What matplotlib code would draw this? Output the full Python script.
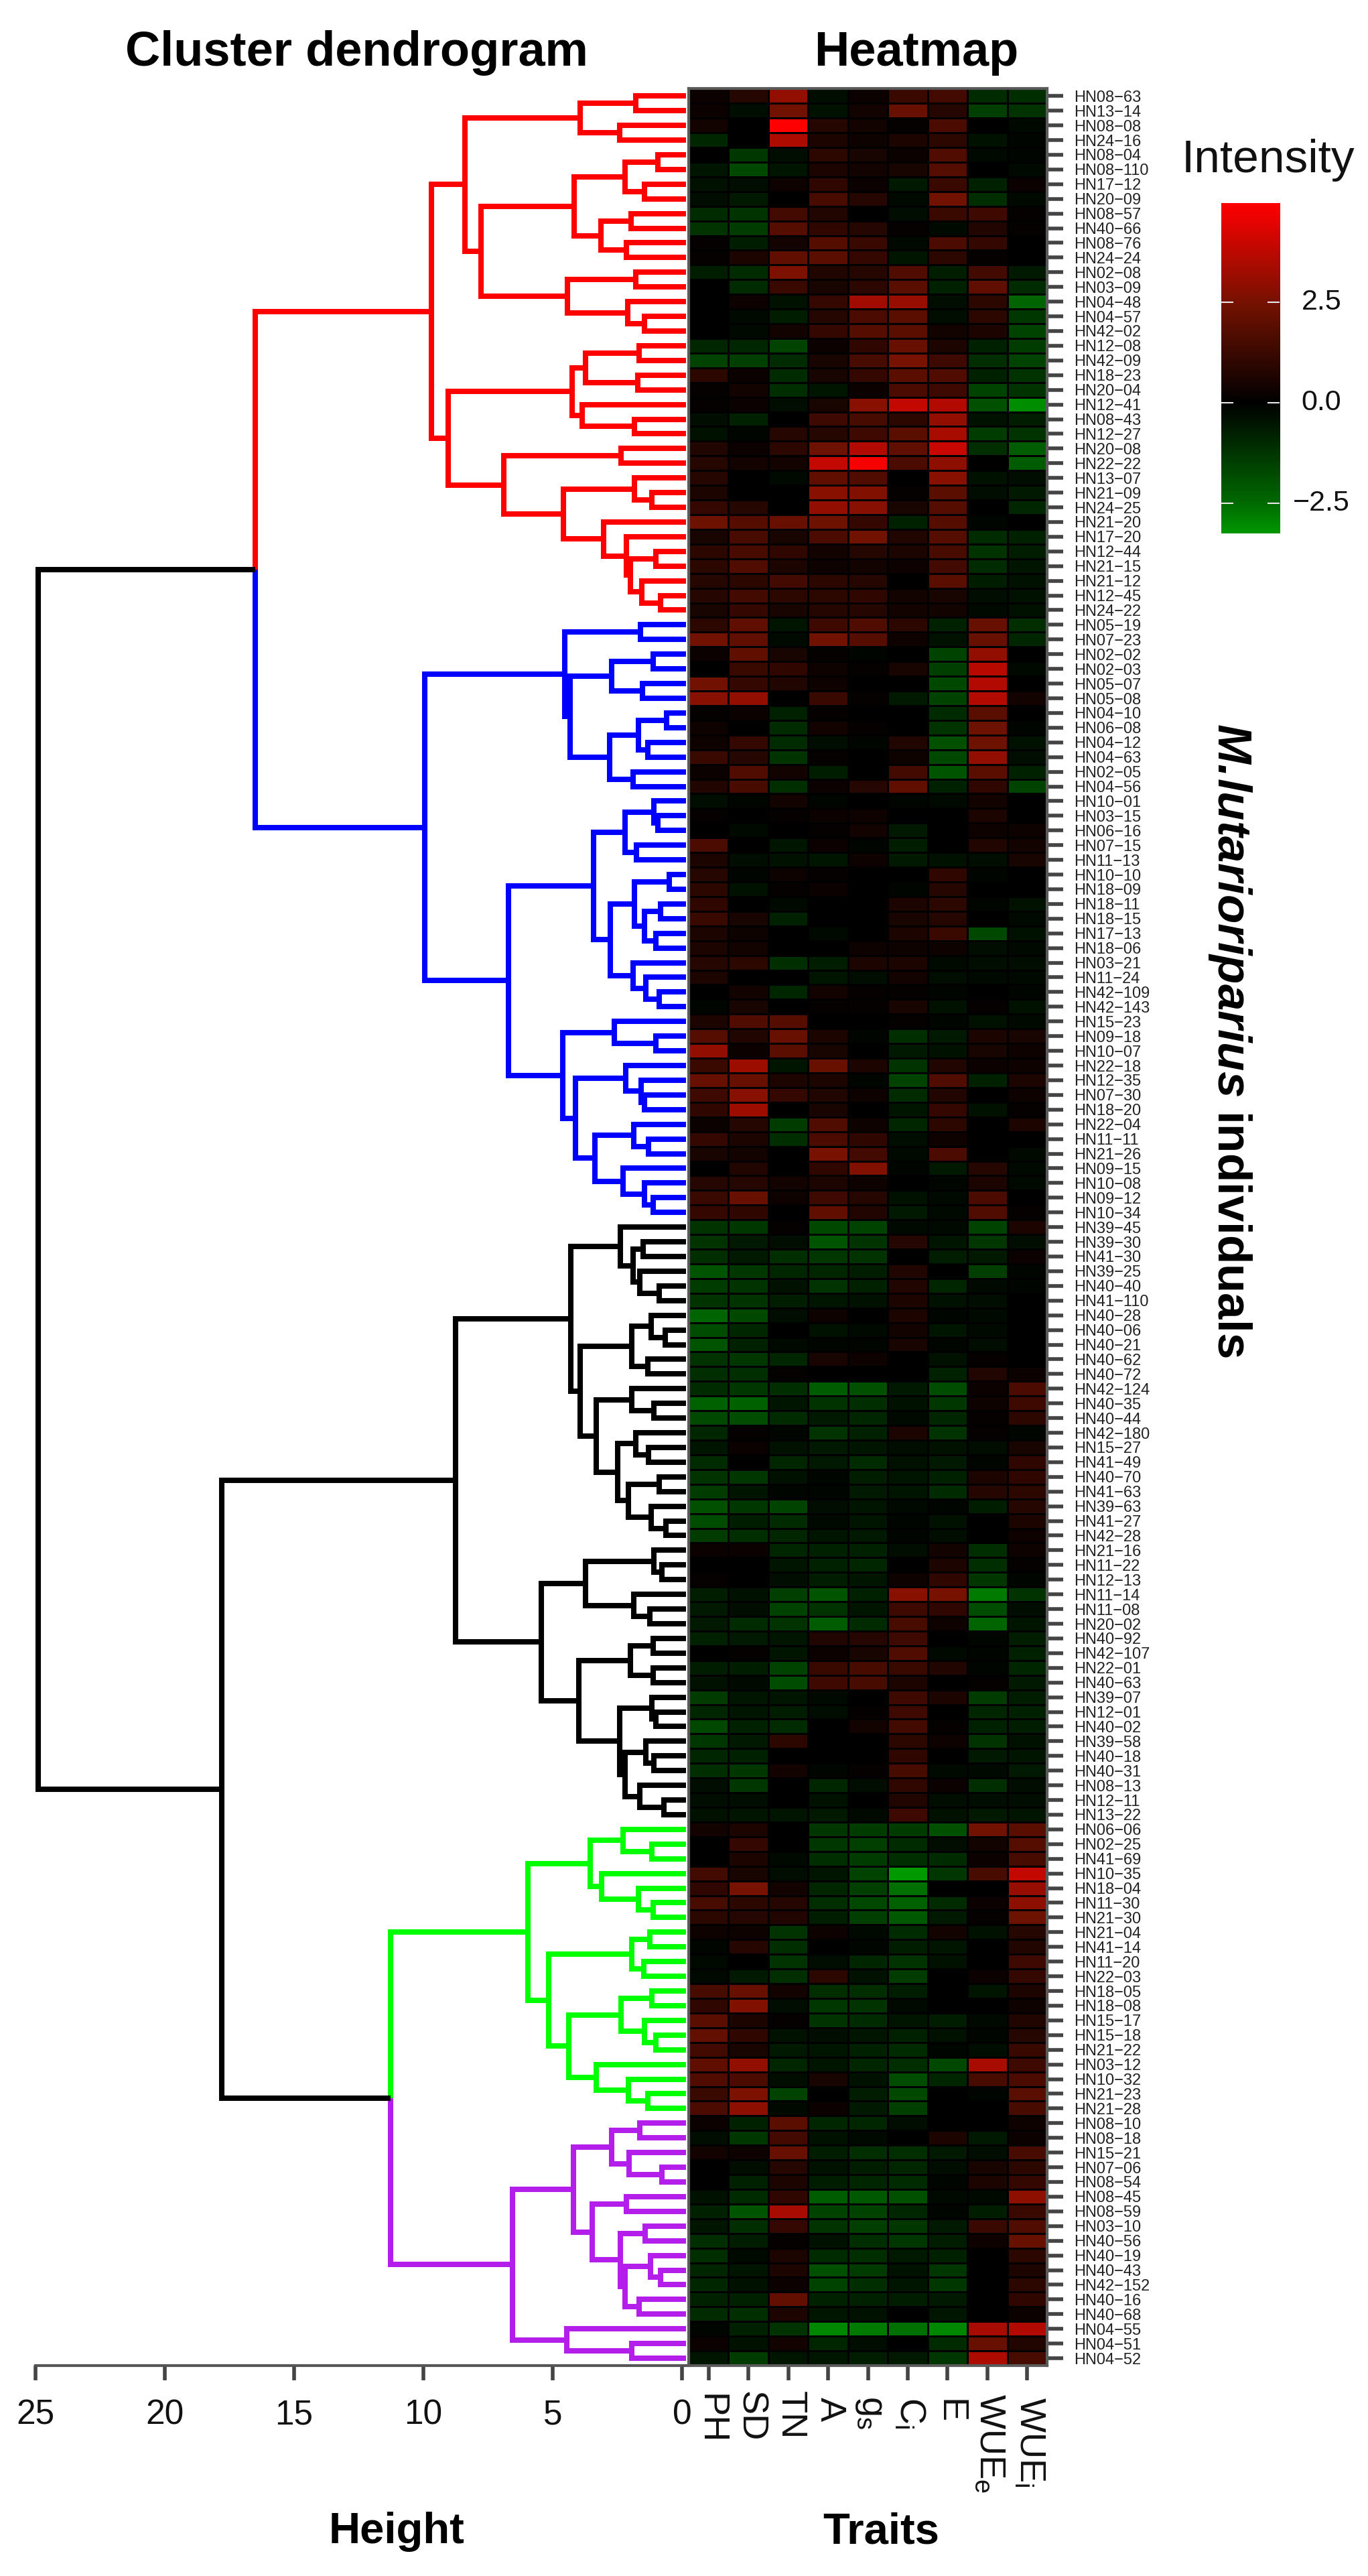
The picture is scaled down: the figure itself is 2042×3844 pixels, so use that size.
import matplotlib
matplotlib.use("Agg")
import matplotlib.pyplot as plt
import numpy as np
from matplotlib.colors import LinearSegmentedColormap, Normalize

plt.rcParams["font.family"] = ["Liberation Sans", "DejaVu Sans"]
plt.rcParams["mathtext.fontset"] = "custom"
plt.rcParams["mathtext.rm"] = "Liberation Sans"
plt.rcParams["mathtext.bfit"] = "Liberation Sans:italic:bold"

FIG_W, FIG_H = 2042, 3844

TRAITS = ["PH", "SD", "TN", "A", r"g$_{\mathrm{s}}$", r"C$_{\mathrm{i}}$", "E", r"WUE$_{\mathrm{e}}$", r"WUE$_{\mathrm{i}}$"]
HEIGHT_TICKS = [25, 20, 15, 10, 5, 0]
COLORBAR_TICKS = [2.5, 0.0, -2.5]
COLORBAR_LABELS = ["2.5", "0.0", "\u22122.5"]
COLORBAR_MAX = 4.98
COLORBAR_MIN = -3.26

ROW_LABELS = [
    "HN08-63", "HN13-14", "HN08-08", "HN24-16", "HN08-04", "HN08-110", "HN17-12", "HN20-09", "HN08-57", "HN40-66",
    "HN08-76", "HN24-24", "HN02-08", "HN03-09", "HN04-48", "HN04-57", "HN42-02", "HN12-08", "HN42-09", "HN18-23",
    "HN20-04", "HN12-41", "HN08-43", "HN12-27", "HN20-08", "HN22-22", "HN13-07", "HN21-09", "HN24-25", "HN21-20",
    "HN17-20", "HN12-44", "HN21-15", "HN21-12", "HN12-45", "HN24-22",
    "HN05-19", "HN07-23", "HN02-02", "HN02-03", "HN05-07", "HN05-08", "HN04-10", "HN06-08", "HN04-12", "HN04-63",
    "HN02-05", "HN04-56", "HN10-01", "HN03-15", "HN06-16", "HN07-15", "HN11-13", "HN10-10", "HN18-09", "HN18-11",
    "HN18-15", "HN17-13", "HN18-06", "HN03-21", "HN11-24", "HN42-109", "HN42-143", "HN15-23", "HN09-18", "HN10-07",
    "HN22-18", "HN12-35", "HN07-30", "HN18-20", "HN22-04", "HN11-11", "HN21-26", "HN09-15", "HN10-08", "HN09-12", "HN10-34",
    "HN39-45", "HN39-30", "HN41-30", "HN39-25", "HN40-40", "HN41-110", "HN40-28", "HN40-06", "HN40-21", "HN40-62",
    "HN40-72", "HN42-124", "HN40-35", "HN40-44", "HN42-180", "HN15-27", "HN41-49", "HN40-70", "HN41-63", "HN39-63",
    "HN41-27", "HN42-28", "HN21-16", "HN11-22", "HN12-13", "HN11-14", "HN11-08", "HN20-02", "HN40-92", "HN42-107",
    "HN22-01", "HN40-63", "HN39-07", "HN12-01", "HN40-02", "HN39-58", "HN40-18", "HN40-31", "HN08-13", "HN12-11", "HN13-22",
    "HN06-06", "HN02-25", "HN41-69", "HN10-35", "HN18-04", "HN11-30", "HN21-30", "HN21-04", "HN41-14", "HN11-20",
    "HN22-03", "HN18-05", "HN18-08", "HN15-17", "HN15-18", "HN21-22", "HN03-12", "HN10-32", "HN21-23", "HN21-28",
    "HN08-10", "HN08-18", "HN15-21", "HN07-06", "HN08-54", "HN08-45", "HN08-59", "HN03-10", "HN40-56", "HN40-19",
    "HN40-43", "HN42-152", "HN40-16", "HN40-68", "HN04-55", "HN04-51", "HN04-52",
]

# rows follow ROW_LABELS, columns follow TRAITS
HEAT_RED = [
    [0.2, 0.8, 3.0, -0.3, 0.2, 1.2, 1.4, -1.0, -1.1],
    [0.2, -0.3, 2.4, -0.4, 0.4, 2.2, 0.8, -1.5, -1.2],
    [0.4, 0, 5.0, 0.8, 0.4, 0.1, 1.6, 0, -0.2],
    [-0.9, 0, 3.5, 0.6, 0.3, 0.6, 0.9, -0.4, -0.1],
    [0, -1.3, -0.3, 0.9, 0.5, 0.2, 1.7, -0.2, -0.1],
    [-0.5, -1.7, -0.5, 0.6, 0.4, 0.5, 1.8, 0, -0.2],
    [-0.4, -0.3, 0.3, 1.0, 0.2, -0.6, 1.2, -0.8, 0.2],
    [-0.3, -0.6, 0, 1.5, 0.8, -0.2, 2.4, -1.1, -0.2],
    [-1.0, -1.2, 1.4, 0.7, 0, -0.3, 1.2, 1.3, 0.1],
    [-1.2, -1.4, 1.8, 1.0, 0.8, 0.1, -0.2, 0.7, 0.1],
    [0.1, -0.7, 0.4, 1.8, 1.2, -0.2, 1.6, 1.1, 0],
    [0.1, 0.6, 2.0, 1.9, 1.1, -0.5, 0.9, 0.1, 0],
    [-0.7, -1.0, 2.6, 0.7, 0.8, 1.7, -0.7, 1.4, -0.6],
    [0, -1.0, 1.2, 0.5, 0.9, 1.9, -0.8, 2.0, -1.0],
    [0, 0.3, -0.4, 1.1, 3.3, 3.1, -0.3, 0.9, -2.4],
    [0, -0.2, -0.7, 0.8, 1.6, 1.9, -0.3, 0.9, -1.3],
    [0, -0.2, 0.4, 1.1, 1.8, 1.9, 0.4, 0.6, -1.6],
    [-0.9, -0.9, -1.6, 0.2, 1.0, 2.2, 0.6, -0.8, -1.4],
    [-1.6, -1.5, -1.0, 0.5, 1.5, 2.5, 1.3, -1.1, -1.6],
    [0.9, 0.2, -1.0, 0.5, 1.1, 1.9, 1.7, -0.8, -1.2],
    [0.1, 0.4, -1.1, -0.5, 0.2, 1.6, 1.3, -1.6, -1.2],
    [0.1, 0.2, -0.3, 0.5, 2.8, 3.9, 3.6, -1.9, -3.1],
    [-0.3, -0.8, 0, 1.3, 1.5, 0.9, 3.0, -0.4, -0.7],
    [-0.4, -0.1, 0.8, 0.8, 1.3, 1.9, 3.4, -1.4, -1.2],
    [0.7, 0.2, 0.9, 2.3, 3.6, 2.0, 4.0, -1.1, -2.2],
    [0.8, 0.4, 0.4, 3.9, 4.8, 1.6, 2.9, 0, -2.2],
    [0.8, 0, -0.2, 2.0, 1.7, 0, 2.8, -0.4, -0.3],
    [0.6, 0, 0, 2.8, 2.7, 0.1, 1.9, -0.3, -0.6],
    [1.1, 0.8, 0, 3.0, 2.8, 0.5, 1.8, 0, -0.9],
    [2.3, 1.8, 2.2, 2.3, 1.1, -0.8, 1.8, -0.1, 0],
    [0.5, 1.5, 0.5, 1.6, 2.4, 0.7, 1.8, -1.0, -0.8],
    [0.9, 1.5, 1.0, 0.4, 0.8, 0.6, 1.5, -1.2, -0.7],
    [0.9, 1.7, 0.6, 0.3, 0.4, 0.3, 1.4, -1.0, -0.5],
    [0.8, 0.9, 1.4, 0.9, 0.8, 0, 1.9, -0.7, -0.4],
    [0.8, 1.4, 0.9, 0.9, 1.0, 0.4, 0.5, -0.3, -0.4],
    [0.5, 1.1, 0.5, 0.8, 0.8, 0.4, 0.4, -0.2, -0.4],
]
HEAT_BLUE = [
    [0.9, 2.0, -0.5, 1.3, 1.7, 0.9, -0.8, 2.2, -1.1],
    [2.4, 2.0, -0.2, 2.4, 1.8, 0.3, -0.4, 2.2, -0.9],
    [0.2, 2.0, 0.5, 0.1, -0.1, 0, -1.6, 3.0, 0],
    [0, 1.2, 1.0, 0.3, 0.1, 0.5, -1.5, 3.7, -0.2],
    [2.4, 1.1, 0.7, 0.3, 0, 0, -1.7, 3.6, 0],
    [2.8, 3.0, 0, 1.2, 0.1, -0.6, -1.6, 3.6, 0.4],
    [0.1, 0.2, -0.8, 0.1, 0, 0, -1.0, 1.9, 0],
    [0.3, 0, -1.0, 0.4, 0.1, 0, -1.2, 2.3, -0.1],
    [0.3, 1.1, -1.0, -0.3, -0.1, 0.7, -1.9, 2.3, -0.4],
    [1.2, 0.8, -1.2, 0.1, 0, 0.3, -1.7, 3.0, -0.3],
    [0.2, 1.7, 0.4, -0.7, 0, 1.4, -2.0, 1.9, -0.8],
    [0.7, 1.5, -1.1, 0.2, 0.8, 2.0, -0.8, 1.0, -1.6],
    [-0.3, -0.1, 0.4, -0.1, 0, -0.1, -0.2, 0.4, 0],
    [0.1, 0, 0.1, 0.2, 0.3, 0, 0, 0.6, 0],
    [0, -0.2, 0, 0.1, 0.4, -0.6, 0, 0.3, 0.3],
    [1.6, 0, -0.5, 0.2, -0.1, -0.7, 0, 0.7, 0.4],
    [0.6, -0.3, -0.4, -0.5, 0.3, -0.6, -0.4, -0.3, 0.5],
    [0.8, -0.1, 0.3, 0.1, 0, 0, 1.0, -0.1, 0],
    [0.9, -0.4, 0.1, 0.2, 0, -0.1, 0.8, 0, 0],
    [1.0, 0, -0.2, 0, 0, 0.6, 0.9, -0.1, -0.4],
    [1.2, 0.5, -0.8, 0, 0, 0.5, 0.8, 0, -0.2],
    [0.6, 0.3, 0, -0.2, 0, 0.6, 1.2, -1.7, -0.4],
    [0.6, 0.4, 0, 0, 0.3, 0.3, 0.3, -0.3, -0.2],
    [0.8, 0.9, -1.1, -0.7, 0.6, 0.6, -0.2, -0.3, -0.3],
    [0.6, 0, 0, -0.5, -0.3, 0.4, -0.3, -0.2, -0.2],
    [0, 0.4, -0.9, 0.4, 0.1, 0.1, -0.1, 0, -0.1],
    [-0.1, 0.5, 0, 0.1, 0.1, 0.5, -0.4, 0.1, -0.4],
    [0.6, 1.7, 1.8, 0, 0, 0.1, -0.1, -0.4, -0.2],
    [1.8, 0.7, 2.2, 0.6, -0.1, -1.1, -0.6, 0.6, 0.5],
    [3.0, 0.2, 1.9, 0.5, 0, -0.6, -0.4, 0.5, 0.3],
    [1.2, 3.2, -0.5, 2.2, 0.6, -1.2, 0.7, 0.2, 0.3],
    [2.2, 2.2, 0.6, 0.6, -0.1, -1.6, 1.7, -0.8, 0.6],
    [1.3, 2.8, 1.1, 0.7, 0.3, -1.0, 0.7, 0, 0.3],
    [1.0, 3.2, 0, 0.5, 0, -0.5, 1.1, -0.4, 0.1],
    [0.2, 0.8, -1.4, 1.7, 0.3, -0.9, 0.9, 0, 0.6],
    [1.1, 0.6, -1.1, 1.6, 1.0, -0.3, 0.3, 0, 0],
    [0.5, 0.4, 0, 2.5, 1.4, -0.2, 1.6, 0, -0.2],
    [0, 0.7, 0, 1.0, 2.7, -0.1, -0.6, 0.8, -0.2],
    [0.8, 0.8, 0.4, 0.6, 0.3, 0, -0.1, 0.6, -0.2],
    [1.2, 2.2, 0.3, 1.3, 0.8, -0.4, -0.2, 1.6, 0],
    [1.1, 1.0, 0, 2.0, 0.7, -0.6, -0.2, 1.7, 0.1],
]
HEAT_BLACK = [
    [-1.2, -1.3, 0.1, -1.7, -1.6, -0.2, -0.2, -1.6, 0.6],
    [-1.2, -0.6, -0.3, -2.0, -1.2, 0.8, -0.5, -1.3, -0.3],
    [-1.1, -0.6, -1.1, -1.3, -1.2, 0, -0.7, -0.6, 0.2],
    [-2.0, -1.3, -0.9, -0.9, -0.7, 0.7, 0, -1.5, -0.1],
    [-1.4, -1.2, -0.4, -1.2, -0.8, 0.7, -0.9, -0.2, -0.1],
    [-1.2, -1.2, -0.7, -0.5, -0.4, 0.6, -0.4, -0.3, 0],
    [-2.4, -1.7, -0.3, 0.3, 0, 0.6, -0.1, -0.2, 0],
    [-1.8, -0.9, 0, -0.4, -0.2, 0.4, -0.5, -0.2, 0],
    [-2.0, -0.8, -0.2, -0.1, -0.1, 0.5, -0.1, -0.3, 0],
    [-1.2, -1.3, -0.9, 0.5, 0.3, 0, -0.4, 0.1, 0],
    [-1.1, -1.1, 0.1, 0, 0, 0, -0.8, 0.7, 0.2],
    [-1.0, -1.3, -1.1, -2.2, -1.9, -0.6, -1.8, 0.2, 1.6],
    [-2.3, -2.3, -0.5, -1.2, -1.1, -0.4, -1.3, 0.3, 1.3],
    [-1.7, -1.8, -1.0, -0.6, -0.9, -0.2, -0.9, 0.1, 0.9],
    [-0.9, 0.1, -0.1, -1.2, -0.8, 0.6, -1.2, 0.1, -0.1],
    [-0.5, 0.2, -0.4, -0.6, -0.5, -0.3, -0.4, -0.3, 0.5],
    [-1.0, 0, -0.9, -0.6, -1.0, -0.4, -0.6, -0.1, 1.0],
    [-1.2, -1.3, -0.4, -0.1, -0.7, -0.5, -0.8, 0.6, 1.0],
    [-1.4, -0.5, -0.1, -0.1, -0.6, -0.5, -1.0, 0.8, 0.9],
    [-1.9, -1.3, -1.6, -0.3, -0.5, -0.2, -0.1, -0.7, 0.8],
    [-1.8, -0.7, -1.0, -0.2, -0.5, -0.1, -0.4, 0, 0.6],
    [-1.4, -1.1, -0.9, -0.5, -0.6, -0.1, -0.3, 0, 0.3],
    [0.2, 0.2, -0.9, -0.8, -0.8, -0.3, 0.4, -1.1, 0.3],
    [0, 0, -0.5, -0.8, -0.9, 0, 0.6, -1.1, 0.1],
    [0.1, 0, -0.3, -0.7, -0.5, 0.3, 1.0, -1.3, -0.1],
    [-0.7, -0.4, -1.5, -2.0, -0.8, 2.8, 2.5, -2.8, -1.2],
    [-0.6, -0.3, -1.6, -1.2, -0.5, 1.3, 1.0, -1.8, -0.3],
    [-0.6, -1.0, -1.2, -2.2, -1.0, 1.5, 0.3, -2.4, -0.5],
    [-0.8, -0.6, -0.5, 0.7, 0.8, 1.3, 0, -0.1, -0.7],
    [0, 0.1, -0.5, 0.2, 0.5, 1.7, -0.2, -0.1, -0.8],
    [-0.7, -0.7, -1.6, 1.2, 1.5, 1.2, 0.7, -0.1, -0.9],
    [-0.4, -0.2, -1.8, 1.3, 1.5, 0.6, 0, 0.1, -0.6],
    [-1.4, -0.5, -0.5, -0.2, 0, 1.3, 0.6, -1.4, -0.7],
    [-0.9, -0.5, -0.7, -0.3, 0.1, 1.3, 0, -0.9, -0.8],
    [-1.7, -0.8, -1.0, 0, 0.4, 1.4, 0.1, -0.8, -0.7],
    [-1.3, -0.6, 0.9, 0, 0, 0.9, 0.3, -1.2, -0.4],
    [-0.9, -0.8, 0, 0, 0, 1.0, 0, -0.6, -0.5],
    [-1.1, -1.3, 0.4, -0.1, 0.1, 1.5, -0.2, -0.2, -0.6],
    [-0.3, -1.3, 0, -0.9, -0.3, 1.0, 0.2, -1.1, -0.3],
    [-0.3, -0.3, 0, -0.4, 0, 0.7, -0.3, -0.3, -0.3],
    [-0.4, -0.5, -0.5, -0.6, -0.2, 1.3, -0.4, -0.6, -0.5],
]
HEAT_GREEN = [
    [0.4, 0.6, 0, -1.3, -1.4, -1.4, -1.9, 2.4, 1.9],
    [0, 1.1, 0, -1.3, -1.5, -1.0, -0.3, 0.4, 1.8],
    [0, 0.6, -0.2, -1.1, -1.4, -1.1, -1.0, 0.2, 1.5],
    [1.4, 0.5, -0.3, -0.5, -1.6, -3.3, -1.3, 1.5, 3.9],
    [1.0, 2.5, 0.4, -0.9, -1.5, -2.6, 0, 0, 3.1],
    [1.5, 0.9, 0.8, -1.1, -1.7, -2.3, -1.0, 0.2, 2.9],
    [0.9, 0.8, 0.7, -0.7, -1.5, -2.1, -0.6, 0.1, 2.3],
    [0.3, 0.3, -1.2, 0.3, -0.2, -1.0, 0.4, -0.4, 0.8],
    [-0.1, 0.8, -1.1, 0, -0.1, -0.7, -0.5, 0, 0.7],
    [-0.2, 0, -1.2, -0.3, -0.9, -1.2, -0.4, 0, 1.3],
    [-0.2, -0.6, -1.1, 0.9, -0.4, -1.4, 0, 0.2, 1.1],
    [1.5, 2.2, 0.4, -1.1, -1.1, -0.7, 0, -0.5, 0.6],
    [1.0, 2.7, -0.3, -1.3, -1.2, -0.2, 0, 0, 0.3],
    [1.9, 0.6, 0.1, -1.2, -1.0, -0.5, -0.7, -0.2, 0.7],
    [2.1, 1.0, -0.4, -0.3, -0.5, -0.8, -0.4, -0.1, 0.8],
    [1.4, 0.5, -0.6, -0.5, -0.8, -1.0, -0.1, -0.3, 1.2],
    [2.0, 3.0, -0.9, -0.5, -0.9, -1.1, -1.7, 3.4, 1.3],
    [1.7, 1.6, -0.3, 0.5, -0.4, -1.8, -0.9, 1.5, 1.6],
    [1.2, 2.6, -1.6, 0, -0.7, -1.7, 0, -0.1, 1.9],
    [1.6, 2.9, -0.2, 0.2, -0.6, -1.5, 0, 0, 1.5],
]
HEAT_PURPLE = [
    [0.2, -0.8, 1.9, -0.9, -0.9, -0.3, 0, 0, 0.3],
    [-0.3, -1.3, 1.4, -0.4, -0.2, 0, 0.6, -0.6, 0.2],
    [0.4, 0.3, 2.2, -0.7, -1.1, -1.1, -0.6, -0.3, 1.5],
    [0, -0.3, 0.8, -0.4, -0.7, -0.9, -0.3, 0.5, 0.9],
    [0, -0.8, 0.6, -0.7, -0.9, -1.0, -0.1, 0.6, 1.1],
    [-0.4, -1.0, 1.0, -2.2, -2.1, -1.9, -0.2, -0.2, 2.9],
    [-0.8, -2.0, 3.4, -1.6, -1.6, -0.9, -0.1, -0.7, 1.2],
    [-0.5, -1.1, 1.1, -1.2, -1.5, -1.3, -0.6, 1.2, 1.7],
    [-1.1, -0.7, 0.1, -0.4, -1.1, -1.3, -0.7, 0.3, 2.2],
    [-1.1, -0.2, 0.6, -1.0, -1.1, -0.6, -0.8, 0, 0.9],
    [-0.9, -0.5, 0.6, -1.9, -1.4, -0.4, -1.3, 0, 0.6],
    [-0.9, -0.4, 0.2, -1.6, -1.1, -0.5, -1.3, 0, 0.9],
    [-0.8, -0.8, 2.1, -0.8, -0.8, -0.7, -0.6, 0, 1.0],
    [-1.0, -1.1, 0.6, -0.5, -0.4, 0, -0.5, 0, 0.2],
    [-0.1, -0.8, -1.2, -3.0, -2.8, -2.6, -3.0, 3.4, 3.6],
    [0.2, -0.4, 0.4, -0.9, -0.3, 0, -1.0, 2.2, 0.7],
    [-0.5, -1.4, -0.5, -0.5, -0.7, -0.6, -1.3, 3.5, 1.5],
]

# dendrogram as nested (height, upper child, lower child), L is a leaf
L = None
RED_TREE = (9.7,
    (8.4,
        (3.95, (1.8, L, L), (2.4, L, L)),
        (7.76,
            (4.18, (2.2, (0.94, L, L), (1.46, L, L)), (3.14, (1.98, L, L), (2.15, L, L))),
            (4.43, (1.8, L, L), (2.1, L, (1.46, L, L))))),
    (9.03,
        (4.24, (3.72, (1.66, L, L), (1.72, L, L)), (3.87, L, (1.83, L, L))),
        (6.9,
            (2.36, L, L),
            (4.58,
                (1.83, L, (1.17, L, L)),
                (3.02, L, (2.15, L, (2.0, (1.0, L, L), (1.55, L, (0.82, L, L)))))))))
BLUE_TREE = (9.96,
    (4.53,
        (1.6, L, L),
        (4.33,
            (2.71, (1.11, L, L), (1.52, L, L)),
            (2.79, (1.69, (0.59, L, L), (1.32, L, L)), (1.9, L, L)))),
    (6.72,
        (3.43,
            (2.21, (1.08, L, (0.94, L, L)), (1.75, L, L)),
            (2.76,
                (1.83, (0.48, L, L), (1.46, (0.82, L, L), (1.02, L, L))),
                (1.89, L, (1.4, L, (0.88, L, L))))),
        (4.62,
            (2.62, L, (1.0, L, L)),
            (4.12,
                (2.18, L, (1.58, L, (1.44, L, L))),
                (3.37,
                    (1.87, L, (1.29, L, L)),
                    (2.27, L, (1.46, L, (1.11, L, L))))))))
BLACK_TREE = (8.75,
    (4.3,
        (2.39, L, (1.9, (1.5, L, L), (1.63, L, (0.88, L, L)))),
        (3.95,
            (1.95, (1.2, L, (0.65, L, L)), (1.32, L, L)),
            (3.31,
                (1.95, L, (1.08, L, L)),
                (2.5,
                    (1.78, L, (1.29, L, L)),
                    (2.07, (0.88, L, L), (1.2, L, (0.63, L, L))))))),
    (5.45,
        (3.72, (1.08, L, (0.79, L, L)), (1.87, L, (1.25, L, L))),
        (4.0,
            (2.0, (1.11, L, L), (1.11, L, L)),
            (2.41,
                (1.17, L, (1.0, L, L)),
                (2.21, (1.4, L, (1.08, L, L)), (1.63, L, (0.71, L, L)))))))
GREEN_TREE = (5.97,
    (3.54, (2.27, L, (1.17, L, L)), (3.1, L, (1.69, L, (1.11, L, L)))),
    (5.16,
        (1.95, (1.25, L, L), (1.48, L, L)),
        (4.37,
            (2.35, (1.17, L, L), (1.44, L, (1.0, L, L))),
            (3.31, L, (2.07, L, (1.32, L, L))))))
PURPLE_TREE = (6.55,
    (4.21,
        (2.73, (1.63, L, L), (2.04, L, (0.79, L, L))),
        (3.46,
            (2.15, L, L),
            (2.39,
                (1.43, L, L),
                (2.21, (1.23, L, (0.83, L, L)), (1.66, L, L))))),
    (4.46, L, (1.94, L, L)))
ROOT_TREE = (24.9, (16.5, RED_TREE, BLUE_TREE), (17.8, BLACK_TREE, (11.28, GREEN_TREE, PURPLE_TREE)))

CLUSTER_SIZES = [36, 41, 41, 20, 17]
CLUSTER_COLORS = ["#ff0000", "#0000ff", "#000000", "#00ff00", "#b41eeb"]

HEAT_LEFT, HEAT_RIGHT, PLOT_TOP, PLOT_BOTTOM = 1028, 1563, 132.3, 3530
DENDRO_LEFT, DENDRO_RIGHT = 53, 1024
LEAF_HEIGHT = -0.155
AXIS_GREY = "#444444"
TRAIT_LABEL_TOPS = [3572, 3568, 3568, 3577, 3575, 3577, 3580, 3572, 3577]


def px_text(x, y, s, **kwargs):
    return fig.text(x / FIG_W, 1 - y / FIG_H, s, **kwargs)


def px_axes(left, top, right, bottom):
    return fig.add_axes([left / FIG_W, 1 - bottom / FIG_H, (right - left) / FIG_W, (bottom - top) / FIG_H])


def draw_tree(ax, node, leaf_colors, next_leaf):
    # returns y, height, colour of the node, with colour black when clusters are mixed
    if node is None:
        row = next_leaf[0]
        next_leaf[0] += 1
        return row + 0.5, LEAF_HEIGHT, leaf_colors[row]
    height, upper, lower = node
    children = [draw_tree(ax, upper, leaf_colors, next_leaf), draw_tree(ax, lower, leaf_colors, next_leaf)]
    y = (children[0][0] + children[1][0]) / 2
    for child_y, child_h, color in children:
        ax.plot([child_h, height, height], [child_y, child_y, y], color=color, lw=5.8,
                solid_joinstyle="miter", solid_capstyle="butt", clip_on=False)
    color = children[0][2] if children[0][2] == children[1][2] else "#000000"
    return y, height, color


fig = plt.figure(figsize=(FIG_W / 100, FIG_H / 100), dpi=100, facecolor="white")

heat = np.array(HEAT_RED + HEAT_BLUE + HEAT_BLACK + HEAT_GREEN + HEAT_PURPLE)
cmap = LinearSegmentedColormap.from_list(
    "green_black_red",
    [(0.0, "#00ff00"), (0.25, "#006900"), (0.5, "#000000"), (0.75, "#761200"), (1.0, "#ff0000")],
    N=512,
)
norm = Normalize(-5, 5)

# heatmap
ax_heat = px_axes(HEAT_LEFT, PLOT_TOP, HEAT_RIGHT, PLOT_BOTTOM)
ax_heat.pcolormesh(np.arange(len(TRAITS) + 1), np.arange(len(ROW_LABELS) + 1), heat, cmap=cmap, norm=norm,
                   edgecolors="#000000", linewidth=1.0)
ax_heat.set_xlim(0, len(TRAITS))
ax_heat.set_ylim(len(ROW_LABELS), 0)
for side in ax_heat.spines.values():
    side.set_color("#5a5a5a")
    side.set_linewidth(3)
ax_heat.yaxis.tick_right()
ax_heat.set_yticks(np.arange(len(ROW_LABELS)) + 0.5, [s.replace("-", "\u2212") for s in ROW_LABELS])
ax_heat.tick_params(axis="y", length=17, width=4.0, color=AXIS_GREY, pad=12, labelsize=17, labelcolor="#222222")
ax_heat.set_xticks(np.arange(len(TRAITS)) + 0.5, [""] * len(TRAITS))
ax_heat.tick_params(axis="x", length=16, width=4.0, color=AXIS_GREY)

# trait labels sit at their own heights in the reference, so placed one by one
heat_col_w = (HEAT_RIGHT - HEAT_LEFT) / len(TRAITS)
for i, (trait, top) in enumerate(zip(TRAITS, TRAIT_LABEL_TOPS)):
    px_text(HEAT_LEFT + heat_col_w * (i + 0.5) + 3, top, trait, rotation=-90, ha="center", va="top",
            fontsize=39, color="#111111")

# dendrogram
ax_tree = px_axes(DENDRO_LEFT, PLOT_TOP, DENDRO_RIGHT, PLOT_BOTTOM)
leaf_colors = []
for size, color in zip(CLUSTER_SIZES, CLUSTER_COLORS):
    leaf_colors += [color] * size
draw_tree(ax_tree, ROOT_TREE, leaf_colors, [0])
ax_tree.set_xlim(25, LEAF_HEIGHT)
ax_tree.set_ylim(len(ROW_LABELS), 0)
for name, side in ax_tree.spines.items():
    side.set_visible(name == "bottom")
ax_tree.spines["bottom"].set_color("#555555")
ax_tree.spines["bottom"].set_linewidth(3)
ax_tree.set_yticks([])
ax_tree.set_xticks(HEIGHT_TICKS, [str(v) for v in HEIGHT_TICKS])
ax_tree.tick_params(axis="x", length=16, width=4.0, color=AXIS_GREY, pad=20, labelsize=37, labelcolor="#111111")

# colour key
ax_key = px_axes(1823, 303, 1910, 796)
key_values = np.linspace(COLORBAR_MAX, COLORBAR_MIN, 400).reshape(-1, 1)
ax_key.imshow(key_values, cmap=cmap, norm=norm, aspect="auto", extent=[0, 1, COLORBAR_MIN, COLORBAR_MAX])
ax_key.set_xticks([])
ax_key.set_yticks([])
for side in ax_key.spines.values():
    side.set_visible(False)
for value, label in zip(COLORBAR_TICKS, COLORBAR_LABELS):
    ax_key.plot([0, 0.2], [value, value], color="#e8e8e8", lw=1.5)
    ax_key.plot([0.8, 1], [value, value], color="#e8e8e8", lw=1.5)
    ax_key.text(1.72, value, label, ha="center", va="center", fontsize=31, color="#111111")
ax_key.set_xlim(0, 1)
ax_key.set_ylim(COLORBAR_MIN, COLORBAR_MAX)

# titles
px_text(532, 79, "Cluster dendrogram", ha="center", va="center", fontsize=52, fontweight="bold")
px_text(1368, 79, "Heatmap", ha="center", va="center", fontsize=52, fontweight="bold")
px_text(592, 3795, "Height", ha="center", va="baseline", fontsize=47, fontweight="bold")
px_text(1315, 3795, "Traits", ha="center", va="baseline", fontsize=47, fontweight="bold")
px_text(1764, 257, "Intensity", ha="left", va="baseline", fontsize=50, color="#111111")
px_text(1836, 1552, r"$\mathbfit{M.\!lutarioriparius}$ individuals", ha="center", va="center", rotation=-90,
        fontsize=51, fontweight="bold")

fig.savefig("out.png", dpi=100, facecolor="white")
